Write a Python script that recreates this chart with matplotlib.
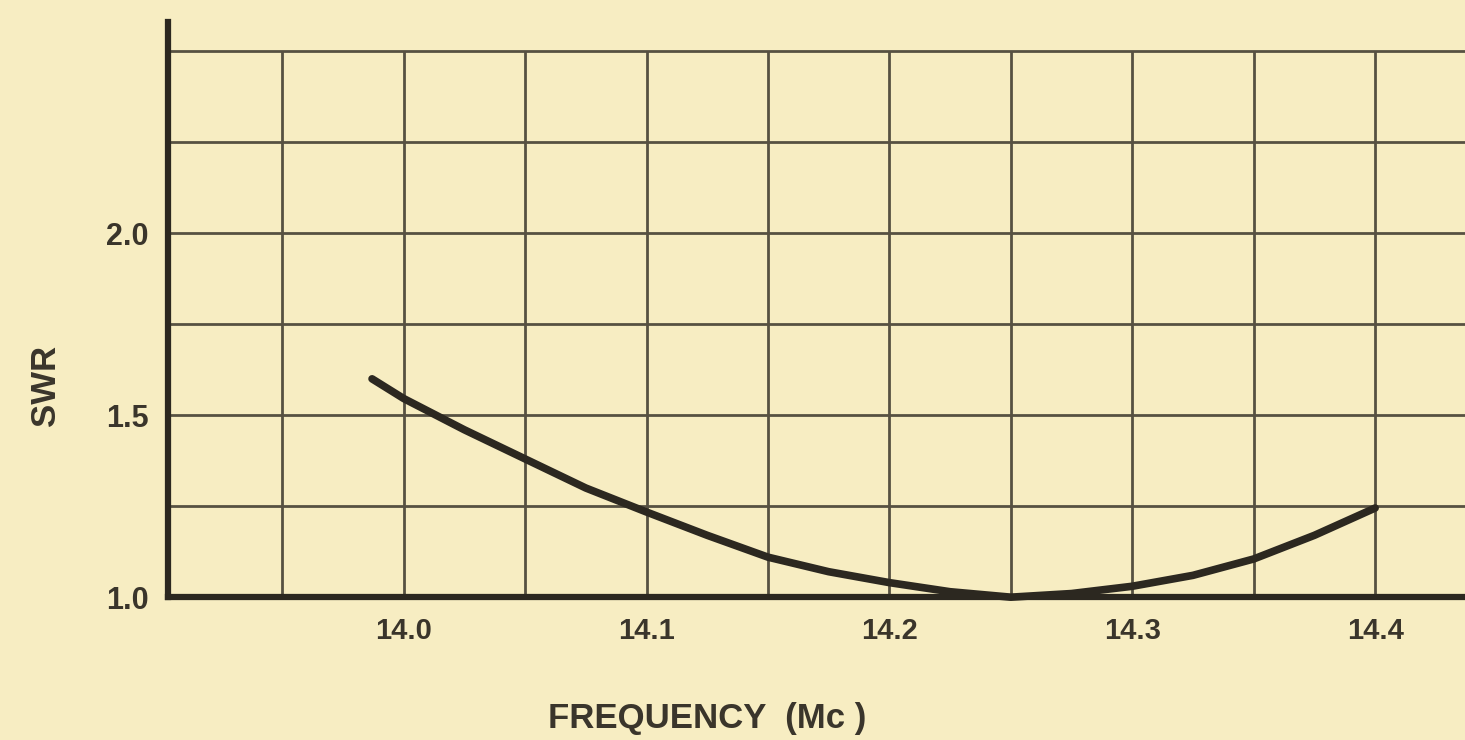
import matplotlib.pyplot as plt
import numpy as np

freq = [13.987, 14.0, 14.025, 14.05, 14.075, 14.1, 14.125, 14.15, 14.175, 14.2,
        14.225, 14.25, 14.275, 14.3, 14.325, 14.35, 14.375, 14.4]
swr = [1.60, 1.546, 1.46, 1.38, 1.30, 1.234, 1.17, 1.11, 1.07, 1.04,
       1.015, 1.0, 1.01, 1.03, 1.06, 1.105, 1.17, 1.245]

x_ticks = [14.0, 14.1, 14.2, 14.3, 14.4]
x_labels = ['14.0', '14.1', '14.2', '14.3', '14.4']
y_ticks = [1.0, 1.5, 2.0]
y_labels = ['1.0', '1.5', '2.0']

paper = '#f7edc2'
ink = '#2c2820'
grid_ink = '#575142'
text_ink = '#3a352b'

fig = plt.figure(figsize=(14.65, 7.4), dpi=100, facecolor=paper)
ax = fig.add_axes([0.1147, 0.193, 0.8853, 0.777])
ax.set_facecolor(paper)
ax.set_xlim(13.903, 14.437)
ax.set_ylim(1.0, 2.58)

# grid paper
xg = np.arange(13.95, 14.45, 0.05)
yg = np.arange(1.25, 2.51, 0.25)
ax.vlines(xg, 1.0, 2.5, color=grid_ink, lw=2.0, zorder=1)
ax.hlines(yg, 13.903, 14.437, color=grid_ink, lw=2.0, zorder=1)

for s in ['top', 'right']:
    ax.spines[s].set_visible(False)
ax.spines['left'].set_linewidth(4.5)
ax.spines['bottom'].set_linewidth(4.5)
ax.spines['left'].set_color(ink)
ax.spines['bottom'].set_color(ink)

ax.plot(freq, swr, color=ink, lw=5.5, solid_capstyle='round', solid_joinstyle='round',
        zorder=3, clip_on=False)

ax.set_xticks(x_ticks)
ax.set_xticklabels(x_labels)
ax.set_yticks(y_ticks)
ax.set_yticklabels(y_labels)
ax.tick_params(length=0, colors=ink)
ax.tick_params(axis='x', pad=14, labelsize=21)
ax.tick_params(axis='y', pad=14, labelsize=22)
for t in ax.get_xticklabels() + ax.get_yticklabels():
    t.set_fontweight('bold')
    t.set_family('Liberation Sans')
    t.set_color(text_ink)

ax.set_xlabel('FREQUENCY  (Mc )', fontsize=25, fontweight='bold', family='Liberation Sans',
              color=text_ink)
ax.set_ylabel('SWR', fontsize=25, fontweight='bold', family='Liberation Sans',
              color=text_ink)
ax.xaxis.set_label_coords(0.416, -0.182)
ax.yaxis.set_label_coords(-0.082, 0.369)

fig.savefig('out.png', dpi=100, facecolor=paper)
